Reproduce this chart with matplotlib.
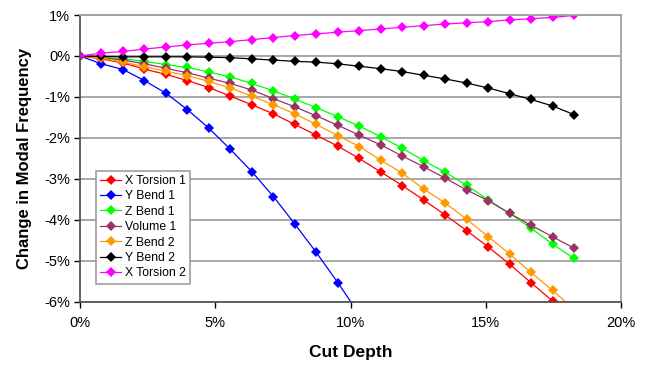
import matplotlib
matplotlib.use("Agg")
import matplotlib.pyplot as plt

plt.rcParams['font.family'] = ['Liberation Sans', 'DejaVu Sans']

# cut depth in percent (one point every ~0.794 %)
cut_depth = [0.0, 0.79, 1.59, 2.38, 3.18, 3.97, 4.76, 5.56, 6.35, 7.15, 7.94, 8.73,
             9.53, 10.32, 11.12, 11.91, 12.70, 13.50, 14.29, 15.09, 15.88, 16.67,
             17.47, 18.26]

# change in modal frequency, percent
x_torsion_1 = [0, -0.07, -0.17, -0.32, -0.45, -0.60, -0.77, -0.98, -1.19, -1.41, -1.67, -1.93,
               -2.20, -2.50, -2.83, -3.16, -3.51, -3.88, -4.26, -4.66, -5.08, -5.53, -5.98, -6.45]
y_bend_1 = [0, -0.19, -0.33, -0.60, -0.91, -1.31, -1.76, -2.28, -2.82, -3.43, -4.10, -4.79,
            -5.53, -6.30]
z_bend_1 = [0, -0.03, -0.07, -0.13, -0.21, -0.28, -0.39, -0.51, -0.67, -0.85, -1.05, -1.26,
            -1.48, -1.71, -1.97, -2.25, -2.55, -2.84, -3.15, -3.51, -3.84, -4.20, -4.59, -4.94]
volume_1 = [0, -0.04, -0.10, -0.19, -0.30, -0.41, -0.54, -0.67, -0.83, -1.04, -1.24, -1.46,
            -1.69, -1.93, -2.17, -2.44, -2.70, -2.98, -3.27, -3.53, -3.84, -4.13, -4.41, -4.69]
z_bend_2 = [0, -0.05, -0.15, -0.26, -0.37, -0.48, -0.62, -0.78, -0.98, -1.19, -1.41, -1.67,
            -1.94, -2.21, -2.54, -2.86, -3.24, -3.59, -3.98, -4.41, -4.83, -5.28, -5.72, -6.18]
y_bend_2 = [0, -0.01, -0.02, -0.02, -0.02, -0.02, -0.03, -0.04, -0.07, -0.10, -0.13, -0.15,
            -0.19, -0.25, -0.31, -0.38, -0.47, -0.56, -0.66, -0.78, -0.92, -1.06, -1.22, -1.43]
x_torsion_2 = [0, 0.07, 0.11, 0.17, 0.22, 0.27, 0.31, 0.35, 0.40, 0.45, 0.50, 0.54,
               0.58, 0.62, 0.66, 0.70, 0.74, 0.78, 0.81, 0.84, 0.88, 0.91, 0.94, 0.99]

series = [
    ("X Torsion 1", x_torsion_1, "#ff0000"),
    ("Y Bend 1", y_bend_1, "#0000ff"),
    ("Z Bend 1", z_bend_1, "#00ff00"),
    ("Volume 1", volume_1, "#993366"),
    ("Z Bend 2", z_bend_2, "#ff9900"),
    ("Y Bend 2", y_bend_2, "#000000"),
    ("X Torsion 2", x_torsion_2, "#ff00ff"),
]

x_ticks = [0, 5, 10, 15, 20]
x_tick_labels = ["0%", "5%", "10%", "15%", "20%"]
y_ticks = [1, 0, -1, -2, -3, -4, -5, -6]
y_tick_labels = ["1%", "0%", "-1%", "-2%", "-3%", "-4%", "-5%", "-6%"]

fig = plt.figure(figsize=(6.48, 3.66), dpi=100)
ax = fig.add_axes([0.1235, 0.175, 0.835, 0.784])

for name, vals, col in series:
    ax.plot(cut_depth[:len(vals)], vals, color=col, lw=0.9, marker="D",
            markersize=5, markeredgewidth=0, label=name)

ax.set_xlim(0, 20)
ax.set_ylim(-6, 1)
ax.set_xticks(x_ticks)
ax.set_xticklabels(x_tick_labels)
ax.set_yticks(y_ticks)
ax.set_yticklabels(y_tick_labels)
ax.tick_params(direction="out", length=4, width=1, labelsize=10.5, colors="#000000")
ax.tick_params(axis="x", pad=6)
ax.tick_params(axis="y", pad=3)
ax.yaxis.grid(True, color="#a0a0a0", lw=1.3)
ax.set_axisbelow(True)

for side in ("top", "right"):
    ax.spines[side].set_color("#a0a0a0")
    ax.spines[side].set_linewidth(1.3)
for side in ("left", "bottom"):
    ax.spines[side].set_color("#555555")
    ax.spines[side].set_linewidth(1.3)

ax.set_xlabel("Cut Depth", fontsize=12.5, fontweight="bold", labelpad=11)
ax.set_ylabel("Change in Modal Frequency", fontsize=12, fontweight="bold", labelpad=9)

leg = ax.legend(loc="lower left", bbox_to_anchor=(0.025, 0.055), fontsize=8.8,
                handlelength=1.7, handletextpad=0.3, labelspacing=0.28,
                borderpad=0.35, borderaxespad=0.2, fancybox=False, framealpha=1,
                edgecolor="#a0a0a0")
leg.get_frame().set_linewidth(1.2)

fig.savefig("out.png", dpi=100)
